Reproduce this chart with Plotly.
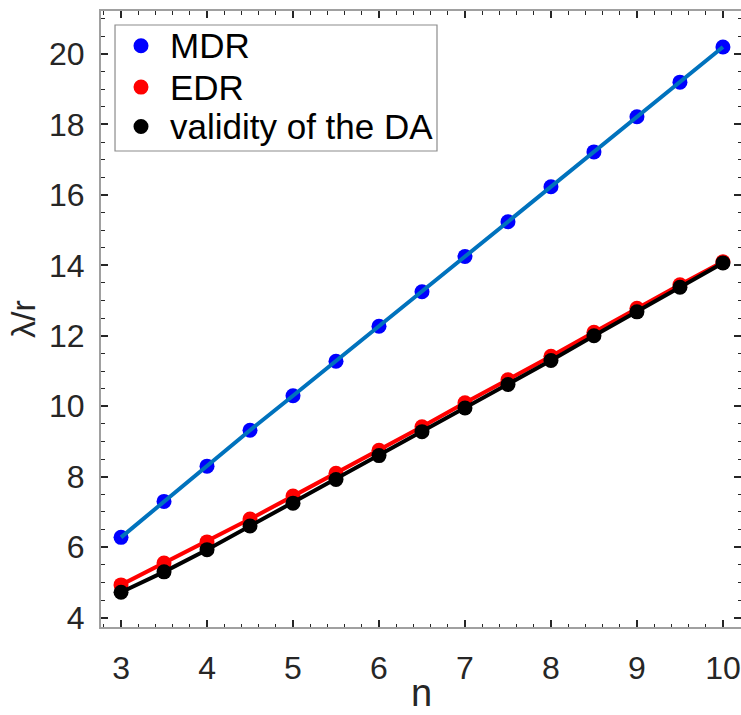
import plotly.graph_objects as go

# Wavelength-to-radius ratio versus n for the three criteria
n_values = [3, 3.5, 4, 4.5, 5, 5.5, 6, 6.5, 7, 7.5, 8, 8.5, 9, 9.5, 10]
mdr = [6.28, 7.30, 8.30, 9.32, 10.30, 11.28, 12.27, 13.25, 14.25, 15.24,
       16.23, 17.22, 18.22, 19.20, 20.20]
edr = [4.93, 5.55, 6.15, 6.80, 7.45, 8.10, 8.75, 9.42, 10.10, 10.75,
       11.42, 12.10, 12.78, 13.45, 14.10]
validity = [4.72, 5.30, 5.93, 6.60, 7.25, 7.92, 8.60, 9.28, 9.95, 10.62,
            11.30, 12.00, 12.68, 13.38, 14.07]

x_ticks = [3, 4, 5, 6, 7, 8, 9, 10]
y_ticks = [4, 6, 8, 10, 12, 14, 16, 18, 20]

series = [
    ("MDR", mdr, "#0000ff", "#0072bd"),
    ("EDR", edr, "#ff0000", "#ff0000"),
    ("validity of the DA", validity, "#000000", "#000000"),
]

FONT = "Liberation Sans, Arial, Helvetica, sans-serif"
TEXT = "#262626"
FRAME = "#a0a0a0"

X_RANGE = [2.767, 10.21]
Y_RANGE = [3.735, 21.22]

fig = go.Figure()
for name, vals, mcol, lcol in series:
    fig.add_trace(go.Scatter(
        x=n_values, y=vals, mode="markers", name=name, showlegend=False,
        marker=dict(color=mcol, size=15, line=dict(width=0)),
    ))
    fig.add_trace(go.Scatter(
        x=n_values, y=vals, mode="lines", showlegend=False,
        line=dict(color=lcol, width=4), hoverinfo="skip",
    ))

tick_common = dict(
    showgrid=False, zeroline=False, ticks="inside", ticklen=7, tickwidth=1.5,
    tickcolor=TEXT, tickfont=dict(family=FONT, size=32, color=TEXT),
    automargin=False,
)
x_minor = dict(dtick=0.2, ticks="inside", ticklen=3.5, tickcolor=TEXT, tickwidth=1)
y_minor = dict(dtick=0.5, ticks="inside", ticklen=3.5, tickcolor=TEXT, tickwidth=1)

# bottom / left axes carry labels and frame lines
fig.update_layout(
    xaxis=dict(
        range=X_RANGE, tickmode="array", tickvals=x_ticks, minor=x_minor,
        showline=True, linecolor=FRAME, linewidth=2, ticklabelstandoff=12,
        **tick_common,
    ),
    yaxis=dict(
        range=Y_RANGE, tickmode="array", tickvals=y_ticks, minor=y_minor,
        showline=True, linecolor=FRAME, linewidth=2, ticklabelstandoff=8,
        title=dict(text="λ/r", font=dict(family=FONT, size=34, color=TEXT), standoff=3),
        **tick_common,
    ),
    # top axis: frame line plus ticks; right axis: ticks only
    xaxis2=dict(
        range=X_RANGE, overlaying="x", side="top", tickmode="array",
        tickvals=x_ticks, minor=x_minor, showticklabels=False,
        showline=True, linecolor=FRAME, linewidth=2, **tick_common,
    ),
    yaxis2=dict(
        range=Y_RANGE, overlaying="y", side="right", tickmode="array",
        tickvals=y_ticks, minor=y_minor, showticklabels=False,
        showline=False, **tick_common,
    ),
)

# x-axis title sitting at the bottom edge of the figure
fig.add_annotation(xref="paper", yref="paper", x=0.5, y=-88 / 616,
                   xanchor="center", yanchor="bottom", showarrow=False,
                   borderpad=0, text="n",
                   font=dict(family=FONT, size=38, color=TEXT))

# invisible trace to bring up the mirrored tick axes
fig.add_trace(go.Scatter(x=[n_values[0]], y=[mdr[0]], xaxis="x2", yaxis="y2",
                         mode="markers", marker=dict(opacity=0),
                         showlegend=False, hoverinfo="skip"))

# legend box drawn in plot-area fractions
L_X0, L_X1, L_Y0, L_Y1 = 0.0219, 0.525, 0.7727, 0.9773
fig.add_shape(type="rect", xref="paper", yref="paper",
              x0=L_X0, x1=L_X1, y0=L_Y0, y1=L_Y1,
              line=dict(color="#8c8c8c", width=1.2), fillcolor="white", layer="above")
row_y = [0.9435, 0.8765, 0.8125]
dot_x = 0.0625
dot_r_x = 7.5 / 640
dot_r_y = 7.5 / 616
for (name, _, mcol, _), ry in zip(series, row_y):
    fig.add_shape(type="circle", xref="paper", yref="paper",
                  x0=dot_x - dot_r_x, x1=dot_x + dot_r_x,
                  y0=ry - dot_r_y, y1=ry + dot_r_y,
                  fillcolor=mcol, line=dict(width=0), layer="above")
    fig.add_annotation(xref="paper", yref="paper", x=0.105, y=ry,
                       xanchor="left", yanchor="middle", showarrow=False,
                       text=name, font=dict(family=FONT, size=35, color="#000000"))

fig.update_layout(
    width=741, height=715,
    margin=dict(l=101, r=0, t=11, b=88),
    plot_bgcolor="white", paper_bgcolor="white",
    showlegend=False,
)

fig.write_html("out.html")
